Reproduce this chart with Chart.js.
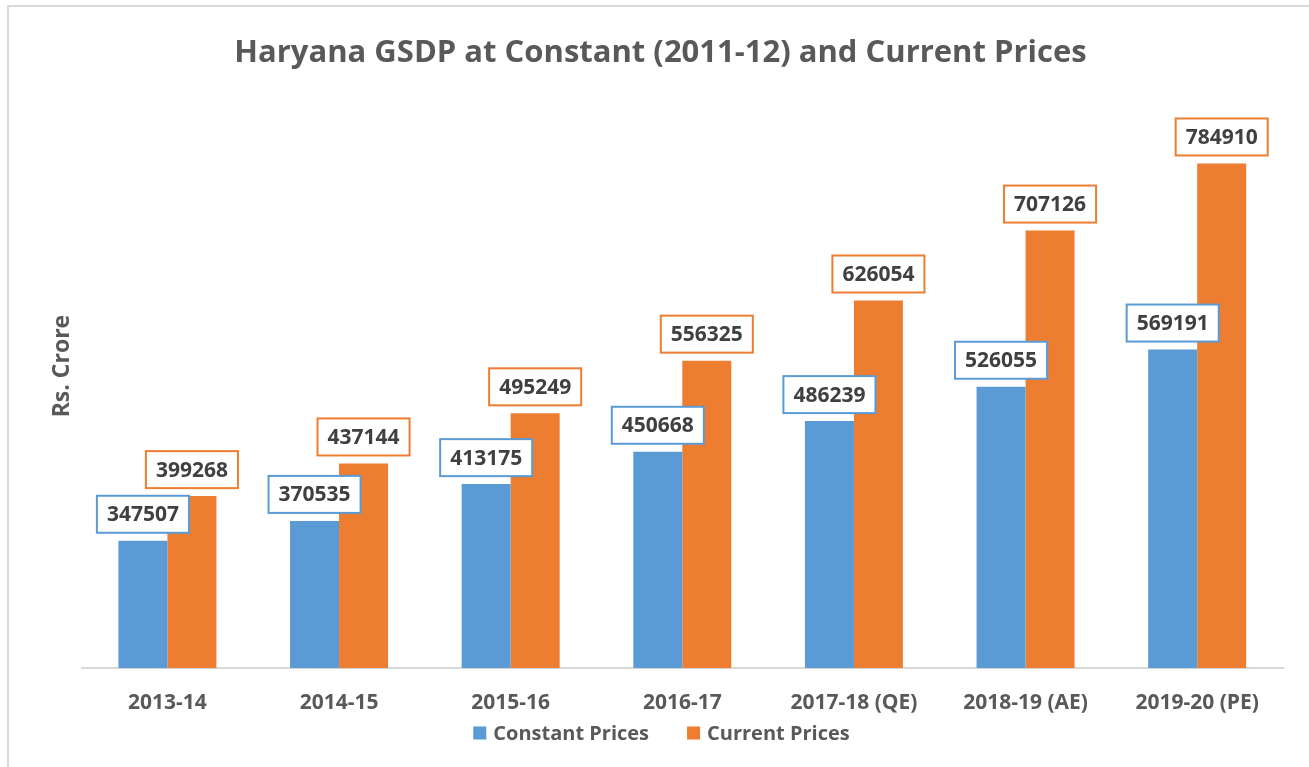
<!DOCTYPE html>
<html>
<head>
<meta charset="utf-8">
<script src="https://cdn.jsdelivr.net/npm/chart.js@4"></script>
<style>
  html, body { margin: 0; padding: 0; background: #fff; }
  #frame {
    position: absolute; left: 7px; top: 5px; right: -10px; bottom: -10px;
    border-top: 2px solid #d9d9d9; border-left: 2px solid #d9d9d9;
  }
  #wrap { position: absolute; left: 0; top: 0; width: 1309px; height: 767px; }
</style>
</head>
<body>
<div id="frame"></div>
<div id="wrap"><canvas id="chart" width="1309" height="767"></canvas></div>
<script>
  const years = ['2013-14', '2014-15', '2015-16', '2016-17', '2017-18 (QE)', '2018-19 (AE)', '2019-20 (PE)'];
  const constantPrices = [347507, 370535, 413175, 450668, 486239, 526055, 569191];
  const currentPrices = [399268, 437144, 495249, 556325, 626054, 707126, 784910];

  const blue = '#5b9bd5';
  const orange = '#ed7d31';
  const textGrey = '#595959';
  const labelFont = 'bold 20px "Open Sans"';

  // boxed value labels above each bar
  const boxLabels = {
    id: 'boxLabels',
    afterDatasetsDraw(chart) {
      const ctx = chart.ctx;
      ctx.save();
      ctx.font = 'bold 21px "Open Sans"';
      ctx.textAlign = 'center';
      ctx.textBaseline = 'middle';
      chart.data.datasets.forEach(function(ds, i) {
        const meta = chart.getDatasetMeta(i);
        meta.data.forEach(function(bar, j) {
          const txt = String(ds.data[j]);
          const w = ctx.measureText(txt).width + 20;
          const h = 37;
          const bottom = bar.y - 8;
          ctx.fillStyle = '#fff';
          ctx.fillRect(bar.x - w / 2, bottom - h, w, h);
          ctx.strokeStyle = ds.backgroundColor;
          ctx.lineWidth = 2;
          ctx.strokeRect(bar.x - w / 2, bottom - h, w, h);
          ctx.fillStyle = '#404040';
          ctx.fillText(txt, bar.x, bottom - h / 2 + 1);
        });
      });
      ctx.restore();
    }
  };

  // legend row under the axis labels (square swatch + name, wide gap between items)
  const bottomLegend = {
    id: 'bottomLegend',
    afterDraw(chart) {
      const ctx = chart.ctx;
      const box = 13, gap = 7, itemGap = 38;
      const y = chart.chartArea.bottom + 65;
      ctx.save();
      ctx.font = labelFont;
      ctx.textBaseline = 'middle';
      const widths = chart.data.datasets.map(ds => box + gap + ctx.measureText(ds.label).width);
      const total = widths.reduce((a, b) => a + b, 0) + itemGap * (widths.length - 1);
      let x = chart.width / 2 + 7 - total / 2;
      chart.data.datasets.forEach(function(ds, i) {
        ctx.fillStyle = ds.backgroundColor;
        ctx.fillRect(x, y - box / 2, box, box);
        ctx.fillStyle = textGrey;
        ctx.fillText(ds.label, x + box + gap, y + 1);
        x += widths[i] + itemGap;
      });
      ctx.restore();
    }
  };

  const ctx = document.getElementById('chart').getContext('2d');
  const chart = new Chart(ctx, {
    type: 'bar',
    data: {
      labels: years,
      datasets: [{
        label: 'Constant Prices',
        data: constantPrices,
        backgroundColor: blue,
        categoryPercentage: 0.571,
        barPercentage: 1
      }, {
        label: 'Current Prices',
        data: currentPrices,
        backgroundColor: orange,
        categoryPercentage: 0.571,
        barPercentage: 1
      }]
    },
    options: {
      responsive: false,
      animation: false,
      layout: { padding: { left: 38, right: 26, bottom: 54 } },
      plugins: {
        tooltip: { enabled: false },
        legend: { display: false },
        title: {
          display: true,
          text: 'Haryana GSDP at Constant (2011-12) and Current Prices',
          color: textGrey,
          font: { family: 'Open Sans', size: 31, weight: 'bold' },
          padding: { top: 35, bottom: -8 }
        }
      },
      scales: {
        x: {
          grid: { display: false },
          border: { display: true, color: '#d9d9d9', width: 2 },
          ticks: {
            color: textGrey,
            font: { family: 'Open Sans', size: 21, weight: 'bold' },
            padding: 14,
            maxRotation: 0
          },
          afterFit(axis) { axis.height = 45; }
        },
        y: {
          min: 200000,
          max: 900000,
          grid: { display: false },
          border: { display: false },
          ticks: { display: false },
          title: {
            display: true,
            text: 'Rs. Crore',
            color: textGrey,
            font: { family: 'Open Sans', size: 23, weight: 'bold' },
            padding: { top: 11, bottom: -3 }
          }
        }
      }
    },
    plugins: [boxLabels, bottomLegend]
  });
</script>
</body>
</html>
